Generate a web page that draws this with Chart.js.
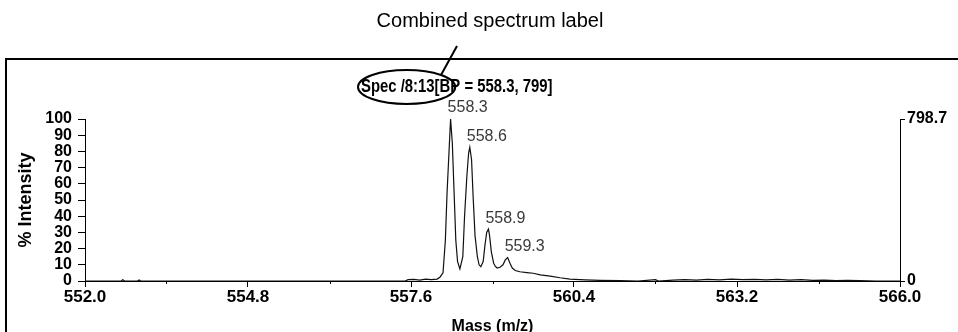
<!DOCTYPE html>
<html>
<head>
<meta charset="utf-8">
<script src="https://cdn.jsdelivr.net/npm/chart.js@4.4.1/dist/chart.umd.min.js"></script>
<style>
  body { margin: 0; background: #fff; }
  #spectrum { position: absolute; left: 0; top: 0; }
</style>
</head>
<body>
<canvas id="spectrum" width="958" height="332"></canvas>
<script>
// m/z values and % intensity
const mz = [552.00, 552.62, 552.65, 552.68, 552.90, 552.93, 552.96,
    557.50, 557.55, 557.65, 557.75, 557.85, 557.95, 558.05, 558.10, 558.15,
    558.19, 558.22, 558.26, 558.28, 558.31, 558.34, 558.37, 558.40, 558.44,
    558.49, 558.52, 558.56, 558.59, 558.61, 558.64, 558.67, 558.70, 558.74, 558.77, 558.80,
    558.84, 558.87, 558.90, 558.93, 558.95, 558.98, 559.02, 559.05, 559.08,
    559.13, 559.18, 559.22, 559.26, 559.30, 559.34, 559.39,
    559.47, 559.59, 559.70, 559.82, 559.99, 560.16, 560.33, 560.59, 560.85, 561.19,
    561.50, 561.80, 561.85, 562.10, 562.30, 562.50, 562.70, 562.90, 563.10, 563.30,
    563.50, 563.70, 563.90, 564.10, 564.30, 564.50, 564.70, 564.90, 565.10, 565.30,
    565.60, 566.00];
const intensity = [0, 0, 0.8, 0, 0, 0.6, 0,
    0, 0.8, 1.0, 0.6, 1.2, 0.9, 1.2, 2.5, 5,
    25, 55, 85, 100, 85, 55, 25, 12, 7.4,
    15, 40, 65, 79, 82.5, 75, 50, 28, 15, 10, 8.8,
    12, 22, 30, 32, 28, 18, 11, 9, 8,
    8.5, 10, 13, 14.5, 11, 8, 6.5,
    5.7, 5.2, 4.8, 3.8, 3.0, 2.0, 1.2, 0.7, 0.4, 0.2,
    0, 0.8, 0, 0.5, 0.9, 0.6, 1.0, 0.7, 1.1, 0.8,
    1.0, 0.7, 1.0, 0.6, 0.8, 0.4, 0.5, 0.3, 0.4, 0.2,
    0, 0];

// labelled peaks
const peakMz = [558.28, 558.61, 558.93, 559.26];
const peakInt = [100, 82.5, 32, 14.5];
const peakLabels = ['558.3', '558.6', '558.9', '559.3'];

// axis ticks
const xTicks = [552.0, 554.8, 557.6, 560.4, 563.2, 566.0];
const xMinorTicks = [553.4, 556.2, 559.0, 561.8, 564.6];
const yTicks = [0, 10, 20, 30, 40, 50, 60, 70, 80, 90, 100];
const absTicks = [0, 798.7];

const specTitle = 'Spec /8:13[BP = 558.3, 799]';
const circledPart = 'Spec /8:13[BP';
const calloutText = 'Combined spectrum label';

const sans = "'Liberation Sans', Arial, sans-serif";

const points = mz.map((m, i) => ({ x: m, y: intensity[i] }));

// frame, callout, title, minor ticks and peak labels
const decorations = {
    id: 'decorations',
    afterDraw(chart) {
        const ctx = chart.ctx;
        const xs = chart.scales.x;
        const ys = chart.scales.y;
        ctx.save();

        // outer frame (runs off the right and bottom edges)
        ctx.strokeStyle = '#000';
        ctx.lineWidth = 2;
        ctx.beginPath();
        ctx.moveTo(970, 59);
        ctx.lineTo(6, 59);
        ctx.lineTo(6, 340);
        ctx.stroke();

        // callout text above the frame
        ctx.fillStyle = '#000';
        ctx.font = '20px ' + sans;
        ctx.textAlign = 'center';
        ctx.textBaseline = 'middle';
        ctx.fillText(calloutText, 490, 21);

        // spectrum title, squeezed a little to look condensed
        const sx = 0.93, tx = 361, ty = 87;
        ctx.font = 'bold 16px ' + sans;
        ctx.textAlign = 'left';
        ctx.save();
        ctx.translate(tx, ty);
        ctx.scale(sx, 1.12);
        ctx.fillText(specTitle, 0, 0);
        ctx.restore();
        const partW = ctx.measureText(circledPart).width * sx;

        // ellipse round the spectrum id, and the leader line to it
        const cx = tx + partW / 2 - 4, rx = partW / 2 - 1, ry = 17;
        ctx.lineWidth = 2;
        ctx.beginPath();
        ctx.ellipse(cx, ty, rx, ry, 0, 0, Math.PI * 2);
        ctx.stroke();
        const lx = 441;
        const ly = ty - ry * Math.sqrt(Math.max(0, 1 - Math.pow((lx - cx) / rx, 2)));
        ctx.beginPath();
        ctx.moveTo(457, 46);
        ctx.lineTo(lx, ly);
        ctx.stroke();

        // minor x ticks
        ctx.lineWidth = 1;
        xMinorTicks.forEach(v => {
            const px = Math.round(xs.getPixelForValue(v)) + 0.5;
            ctx.beginPath();
            ctx.moveTo(px, ys.bottom);
            ctx.lineTo(px, ys.bottom + 3);
            ctx.stroke();
        });

        // peak labels
        ctx.font = '16px ' + sans;
        ctx.fillStyle = '#3a3a3a';
        ctx.textAlign = 'left';
        ctx.textBaseline = 'bottom';
        peakMz.forEach((m, i) => {
            const px = xs.getPixelForValue(m);
            const py = ys.getPixelForValue(peakInt[i]);
            ctx.fillText(peakLabels[i], px - 3, py - 3);
        });
        ctx.restore();
    }
};

new Chart(document.getElementById('spectrum'), {
    type: 'scatter',
    data: {
        datasets: [{
            data: points,
            showLine: true,
            borderColor: '#111',
            borderWidth: 1.2,
            pointRadius: 0,
            tension: 0
        }]
    },
    options: {
        responsive: false,
        animation: false,
        devicePixelRatio: 1,
        layout: { padding: { top: 119, left: 0, right: 0, bottom: 0 } },
        plugins: { legend: { display: false }, tooltip: { enabled: false } },
        scales: {
            x: {
                type: 'linear',
                min: 552,
                max: 566,
                afterFit: s => { s.height = 51; },
                afterBuildTicks: s => { s.ticks = xTicks.map(v => ({ value: v })); },
                grid: { drawOnChartArea: false, color: '#000', tickLength: 6 },
                border: { color: '#000', width: 1 },
                ticks: {
                    color: '#000',
                    padding: 0,
                    maxRotation: 0,
                    autoSkip: false,
                    font: { family: sans, size: 17, weight: 'bold' },
                    callback: v => v.toFixed(1)
                },
                title: {
                    display: true,
                    text: 'Mass (m/z)',
                    color: '#000',
                    font: { family: sans, size: 16, weight: 'bold' },
                    padding: { top: 0, bottom: -4 }
                }
            },
            y: {
                position: 'left',
                min: 0,
                max: 100,
                afterFit: s => { s.width = 85; },
                afterBuildTicks: s => { s.ticks = yTicks.map(v => ({ value: v })); },
                grid: { drawOnChartArea: false, color: '#000', tickLength: 7 },
                border: { color: '#000', width: 1 },
                ticks: {
                    color: '#000',
                    padding: 6,
                    autoSkip: false,
                    font: { family: sans, size: 16, weight: 'bold', lineHeight: 1 }
                },
                title: {
                    display: true,
                    text: '% Intensity',
                    color: '#000',
                    font: { family: sans, size: 18, weight: 'bold' },
                    padding: { top: 15, bottom: 0 }
                }
            },
            abs: {
                position: 'right',
                min: 0,
                max: 798.7,
                afterFit: s => { s.width = 58; },
                afterBuildTicks: s => { s.ticks = absTicks.map(v => ({ value: v })); },
                grid: { drawOnChartArea: false, color: '#000', tickLength: 5 },
                border: { color: '#000', width: 1 },
                ticks: {
                    color: '#000',
                    padding: 2,
                    autoSkip: false,
                    font: { family: sans, size: 16, weight: 'bold' },
                    callback: v => v === 0 ? '0' : v.toFixed(1)
                }
            }
        }
    },
    plugins: [decorations]
});
</script>
</body>
</html>
